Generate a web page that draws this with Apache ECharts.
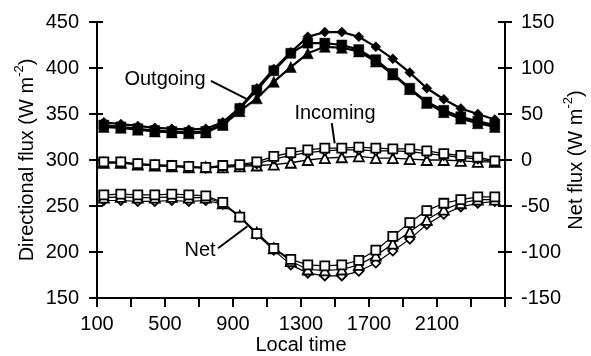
<!DOCTYPE html>
<html>
<head>
<meta charset="utf-8">
<script src="https://cdn.jsdelivr.net/npm/echarts@6/dist/echarts.min.js"></script>
<style>html,body{margin:0;padding:0;background:#fff;}#c{width:591px;height:356px;}</style>
</head>
<body>
<div id="c"></div>
<script>
// ---- data ----
const times = [140, 240, 340, 440, 540, 640, 740, 840, 940, 1040, 1140, 1240, 1340, 1440, 1540, 1640, 1740, 1840, 1940, 2040, 2140, 2240, 2340, 2440];
// Outgoing (left axis, W m-2)
const outDiamond = [341, 339, 337, 335, 334, 333, 334, 341, 357, 378, 399, 417, 434, 439, 439, 434, 423, 410, 395, 378, 366, 356, 350, 344];
const outSquare  = [338, 336, 334, 332, 331, 330, 331, 339, 356, 376, 397, 416, 427, 427, 425, 420, 409, 394, 378, 363, 354, 347, 342, 338];
const outTriangle= [336, 335, 333, 331, 330, 329, 330, 338, 353, 367, 385, 401, 416, 423, 422, 418, 407, 393, 377, 362, 352, 345, 340, 336];
// Incoming (left axis, W m-2)
const inSquare   = [298, 298, 296, 295, 294, 293, 292, 294, 295, 298, 304, 308, 311, 313, 313, 314, 313, 312, 312, 310, 307, 305, 303, 299];
const inDiamond  = [297, 297, 295, 294, 293, 292, 291, 293, 294, 296, 301, 305, 308, 310, 311, 311, 310, 310, 309, 307, 305, 303, 301, 298];
const inTriangle = [297, 297, 295, 294, 293, 292, 292, 292, 293, 294, 295, 297, 300, 302, 303, 304, 302, 302, 301, 300, 300, 299, 298, 298];
// Net (right axis, W m-2)
const netSquare  = [-38, -37, -38, -38, -37, -38, -39, -46, -62, -80, -96, -108, -114, -115, -114, -109, -98, -83, -68, -55, -47, -43, -40, -40];
const netTriangle= [-41, -40, -41, -41, -40, -41, -41, -47, -61, -79, -96, -110, -119, -120, -119, -114, -104, -91, -78, -65, -54, -47, -43, -43];
const netDiamond = [-44, -44, -45, -45, -44, -45, -44, -48, -62, -81, -98, -114, -123, -126, -126, -121, -112, -99, -86, -70, -59, -51, -47, -45];
// axes
const X0 = 100, X1 = 2500, XSTEP = 200, XLABELSTEP = 400;
const leftTicks = [150, 200, 250, 300, 350, 400, 450];
const rightTicks = [-150, -100, -50, 0, 50, 100, 150];
// annotations [text, textX, textY, lineX1, lineY1, lineX2, lineY2] in data units (left axis)
const notes = [
  ['Outgoing', 500, 388, 770, 386, 985, 366],
  ['Incoming', 1500, 351, 1481, 340, 1498, 318],
  ['Net', 706, 202, 812, 204, 985, 228]
];

const FONT = 'Liberation Sans, Arial, sans-serif';
const chart = echarts.init(document.getElementById('c'), null, {renderer: 'canvas'});

function mk(name, vals, yIdx, symbol, filled, lw, size) {
  return {
    name: name, type: 'line', xAxisIndex: 0, yAxisIndex: yIdx,
    data: vals.map((v, i) => [times[i] - X0, v]),
    symbol: symbol, symbolSize: size, showSymbol: true,
    lineStyle: {color: '#000', width: lw},
    itemStyle: filled ? {color: '#000', borderColor: '#000', borderWidth: 0.5}
                      : {color: '#fff', borderColor: '#000', borderWidth: 1.8},
    emphasis: {disabled: true}, animation: false, z: 3
  };
}

const nameRich = {
  sup: {fontSize: 13, fontFamily: FONT, color: '#000', verticalAlign: 'top', lineHeight: 13}
};
const nameStyle = {color: '#000', fontSize: 20, fontFamily: FONT, lineHeight: 28, rich: nameRich};

const yBase = {
  type: 'value', splitLine: {show: false},
  axisLine: {show: true, onZero: false, lineStyle: {color: '#000', width: 2}},
  axisTick: {show: true, length: 8, lineStyle: {color: '#000', width: 2}},
  axisLabel: {color: '#000', fontSize: 20, fontFamily: FONT},
  interval: 50
};

chart.setOption({
  animation: false,
  backgroundColor: '#fff',
  grid: {left: 97, right: 86, top: 22, bottom: 58, containLabel: false, outerBoundsMode: 'none'},
  xAxis: [{
    type: 'value', min: 0, max: X1 - X0, interval: XSTEP,
    splitLine: {show: false},
    axisLine: {show: true, onZero: false, lineStyle: {color: '#000', width: 2}},
    axisTick: {show: true, length: 9, lineStyle: {color: '#000', width: 2}},
    axisLabel: {color: '#000', fontSize: 20, fontFamily: FONT, margin: 16,
      formatter: v => { const t = v + X0; return (t % XLABELSTEP === X0 && t < X1) ? String(t) : ''; }},
    name: 'Local time', nameLocation: 'middle', nameGap: 37, nameMoveOverlap: false,
    nameTextStyle: {color: '#000', fontSize: 20, fontFamily: FONT}
  }],
  yAxis: [
    Object.assign({}, yBase, {
      position: 'left', min: leftTicks[0], max: leftTicks[leftTicks.length - 1],
      axisLabel: Object.assign({}, yBase.axisLabel, {margin: 18}),
      name: 'Directional flux (W m{sup|-2})', nameLocation: 'middle', nameGap: 56, nameRotate: 90,
      nameMoveOverlap: false,
      nameTextStyle: nameStyle
    }),
    Object.assign({}, yBase, {
      position: 'right', min: rightTicks[0], max: rightTicks[rightTicks.length - 1],
      axisTick: {show: true, length: 7, lineStyle: {color: '#000', width: 2}},
      axisLabel: Object.assign({}, yBase.axisLabel, {margin: 16}),
      name: 'Net flux (W m{sup|-2})', nameLocation: 'middle', nameGap: 57, nameRotate: 90,
      nameMoveOverlap: false,
      nameTextStyle: nameStyle
    }),
    Object.assign({}, yBase, {
      position: 'left', min: leftTicks[0], max: leftTicks[leftTicks.length - 1],
      axisLine: {show: false}, axisLabel: {show: false},
      axisTick: {show: true, inside: true, length: 6, lineStyle: {color: '#000', width: 2}}
    }),
    Object.assign({}, yBase, {
      position: 'right', min: rightTicks[0], max: rightTicks[rightTicks.length - 1],
      axisLine: {show: false}, axisLabel: {show: false},
      axisTick: {show: true, inside: true, length: 7, lineStyle: {color: '#000', width: 2}}
    })
  ],
  series: [
    mk('Incoming triangle', inTriangle, 0, 'triangle', false, 1.3, 10),
    mk('Incoming diamond', inDiamond, 0, 'diamond', false, 1.3, 9),
    mk('Incoming square', inSquare, 0, 'rect', false, 1.3, 9),
    mk('Net diamond', netDiamond, 1, 'diamond', false, 1.2, 9),
    mk('Net triangle', netTriangle, 1, 'triangle', false, 1.2, 10),
    mk('Net square', netSquare, 1, 'rect', false, 1.2, 9),
    mk('Outgoing triangle', outTriangle, 0, 'triangle', true, 2.2, 11),
    mk('Outgoing square', outSquare, 0, 'rect', true, 2.2, 10),
    mk('Outgoing diamond', outDiamond, 0, 'diamond', true, 2.2, 10)
  ]
});

const px = (x, y) => chart.convertToPixel({xAxisIndex: 0, yAxisIndex: 0}, [x - X0, y]);
const g = [];
notes.forEach(n => {
  const t = px(n[1], n[2]), a = px(n[3], n[4]), b = px(n[5], n[6]);
  g.push({type: 'text', x: t[0], y: t[1], z: 10,
    style: {text: n[0], fill: '#000', font: '20px ' + FONT, align: 'center', verticalAlign: 'middle'}});
  g.push({type: 'line', z: 10, shape: {x1: a[0], y1: a[1], x2: b[0], y2: b[1]},
    style: {stroke: '#000', lineWidth: 2}});
});
chart.setOption({graphic: g});
</script>
</body>
</html>
